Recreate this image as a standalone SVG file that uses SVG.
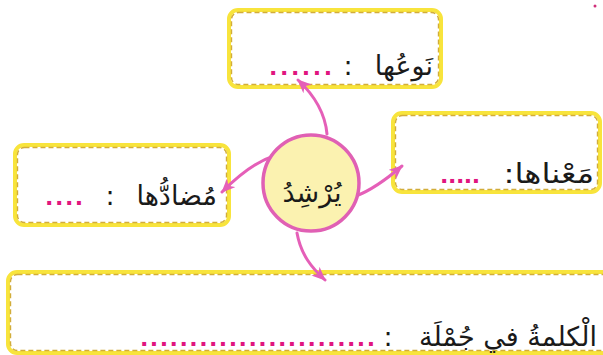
<svg xmlns="http://www.w3.org/2000/svg" width="603" height="355" viewBox="0 0 603 355">
<defs>
<style>
.box{fill:#ffffff;stroke:#f8e43c;stroke-width:4}
.dash{fill:none;stroke:#d2ad3a;stroke-width:1.4;stroke-dasharray:5 3}
.lbl{font-family:"DejaVu Sans",sans-serif;font-size:27px;fill:#1a1a1a}
.dots{font-family:"DejaVu Sans",sans-serif;font-size:22px;font-weight:bold;fill:#e0157f}
.conn{fill:none;stroke:#e55fb8;stroke-width:3;stroke-linecap:round}
</style>
<marker id="ah" viewBox="0 0 14 12" refX="13" refY="6" markerWidth="14" markerHeight="12" markerUnits="userSpaceOnUse" orient="auto">
<path d="M0,0 L14,6 L0,12 L4,6 Z" fill="#e55fb8"/>
</marker>
</defs>
<rect width="603" height="355" fill="#ffffff"/>
<circle cx="595" cy="6" r="1.5" fill="#d0307a"/>

<g id="box-top">
<rect class="box" x="229" y="10" width="212" height="77" rx="9"/>
<rect class="dash" x="231.5" y="12.5" width="207" height="72" rx="7"/>
<text class="lbl" x="433" y="75" text-anchor="end">نَوعُها</text>
<text class="lbl" x="348" y="75" text-anchor="middle">:</text>
<text class="dots" x="269" y="75" letter-spacing="2.6">......</text>
</g>

<g id="box-right">
<rect class="box" x="393" y="113" width="207" height="79" rx="9"/>
<rect class="dash" x="395.5" y="115.5" width="202" height="74" rx="7"/>
<text class="lbl" transform="translate(594 183) scale(1.2 1)" direction="rtl" unicode-bidi="embed" text-anchor="start">مَعْناها:</text>
<text class="dots" x="440" y="183" font-size="16" letter-spacing="-0.4">.....</text>
</g>

<g id="box-left">
<rect class="box" x="15" y="145" width="214" height="80" rx="9"/>
<rect class="dash" x="17.5" y="147.5" width="209" height="75" rx="7"/>
<text class="lbl" x="217" y="205" text-anchor="end">مُضادُّها</text>
<text class="lbl" x="110" y="205" text-anchor="middle">:</text>
<text class="dots" x="45" y="205" letter-spacing="1.6">....</text>
</g>

<g id="box-bottom">
<rect class="box" x="8" y="272" width="605" height="81" rx="9"/>
<rect class="dash" x="10.5" y="274.5" width="600" height="76" rx="7"/>
<text class="lbl" x="597" y="346" text-anchor="end">الْكلمةُ في جُمْلَة</text>
<text class="lbl" x="388" y="346" text-anchor="middle">:</text>
<text class="dots" x="140" y="346" letter-spacing="1.5">........................</text>
</g>

<g id="connectors">
<path class="conn" d="M327 134 C325 112 313 94 298 80" marker-end="url(#ah)"/>
<path class="conn" d="M356 196 C372 190 388 178 402 166" marker-end="url(#ah)"/>
<path class="conn" d="M274 156 C255 162 238 176 222 192" marker-end="url(#ah)"/>
<path class="conn" d="M297 233 C301 255 312 268 325 280" marker-end="url(#ah)"/>
</g>

<g id="center">
<circle cx="311" cy="183" r="48" fill="#fbf2b0" stroke="#e060b4" stroke-width="3.5"/>
<text class="lbl" x="312" y="202" text-anchor="middle" font-size="30">يُرْشِدُ</text>
</g>
</svg>
